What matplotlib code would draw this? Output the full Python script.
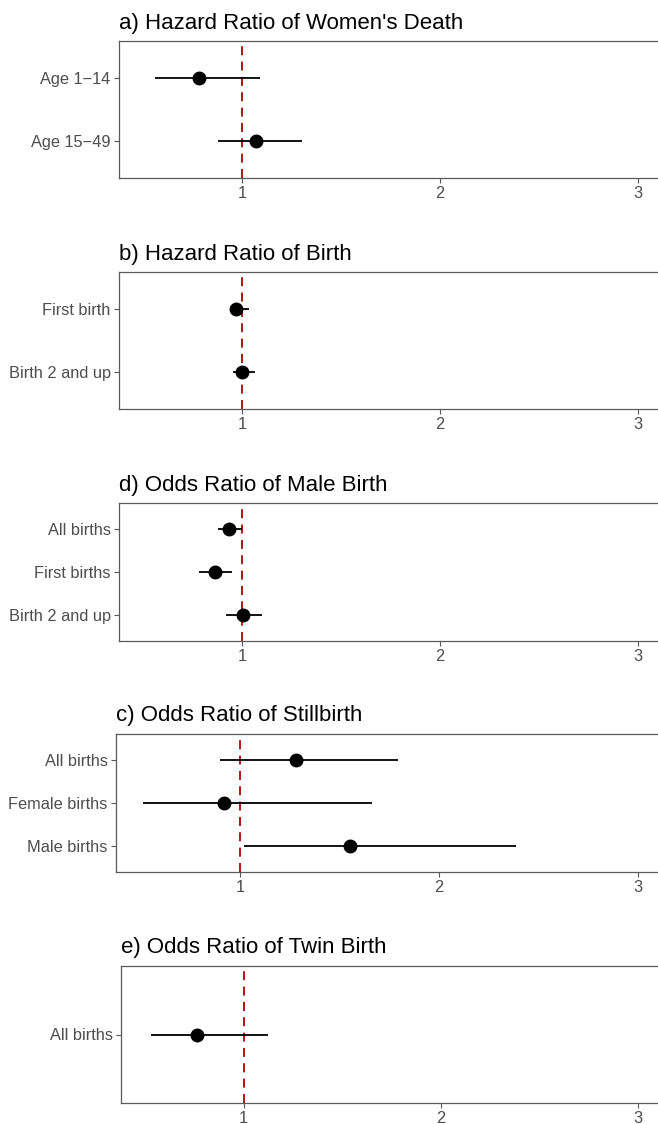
import matplotlib
matplotlib.use("Agg")
import matplotlib.pyplot as plt

plt.rcParams['font.family'] = ['Liberation Sans', 'DejaVu Sans']

# ---- data ----
titles = ["a) Hazard Ratio of Women's Death",
          "b) Hazard Ratio of Birth",
          "d) Odds Ratio of Male Birth",
          "c) Odds Ratio of Stillbirth",
          "e) Odds Ratio of Twin Birth"]

a_labels = ["Age 1\u221214", "Age 15\u221249"]
a_est = [0.78, 1.07]
a_lo = [0.56, 0.88]
a_hi = [1.09, 1.30]

b_labels = ["First birth", "Birth 2 and up"]
b_est = [0.97, 1.00]
b_lo = [0.94, 0.955]
b_hi = [1.035, 1.065]

d_labels = ["All births", "First births", "Birth 2 and up"]
d_est = [0.935, 0.865, 1.005]
d_lo = [0.88, 0.78, 0.92]
d_hi = [1.0, 0.95, 1.10]

c_labels = ["All births", "Female births", "Male births"]
c_est = [1.28, 0.92, 1.555]
c_lo = [0.90, 0.515, 1.02]
c_hi = [1.795, 1.665, 2.39]

e_labels = ["All births"]
e_est = [0.765]
e_lo = [0.53]
e_hi = [1.125]

x_ticks = [1, 2, 3]

panels = [
    (a_labels, a_est, a_lo, a_hi, (119, 41, 657, 178)),
    (b_labels, b_est, b_lo, b_hi, (119, 272, 657, 409)),
    (d_labels, d_est, d_lo, d_hi, (119, 503, 657, 641)),
    (c_labels, c_est, c_lo, c_hi, (116, 734, 657, 872)),
    (e_labels, e_est, e_lo, e_hi, (121, 966, 657, 1103)),
]

W, H = 658, 1124
fig = plt.figure(figsize=(W / 100, H / 100), dpi=100)
fig.patch.set_facecolor('white')

axis_col = '#5a5a5a'
for title, (labels, est, lo, hi, (x0, y0, x1, y1)) in zip(titles, panels):
    ax = fig.add_axes([x0 / W, 1 - y1 / H, (x1 - x0) / W, (y1 - y0) / H])
    n = len(labels)
    ys = [n - i for i in range(n)]
    ax.axvline(1, color='#b00000', lw=1.3, ls=(0, (5, 3.5)), zorder=1)
    ax.hlines(ys, lo, hi, color='black', lw=1.3, zorder=2)
    ax.plot(est, ys, 'o', color='black', ms=9, zorder=3)
    ax.set_xlim(0.378, 3.096)
    ax.set_ylim(0.4, n + 0.6)
    ax.set_yticks(ys)
    ax.set_yticklabels(labels)
    ax.set_xticks(x_ticks)
    ax.set_xticklabels([str(t) for t in x_ticks])
    ax.tick_params(axis='both', colors=axis_col, labelcolor='#4d4d4d',
                   labelsize=11.8, length=3.5, width=0.8, pad=2.5)
    for s in ['left', 'top', 'bottom', 'right']:
        ax.spines[s].set_color(axis_col)
        ax.spines[s].set_linewidth(0.9)
    ax.spines['right'].set_visible(False)
    ax.set_title(title, loc='left', fontsize=16, color='black', pad=9)

fig.savefig('out.png', dpi=100, facecolor='white')
